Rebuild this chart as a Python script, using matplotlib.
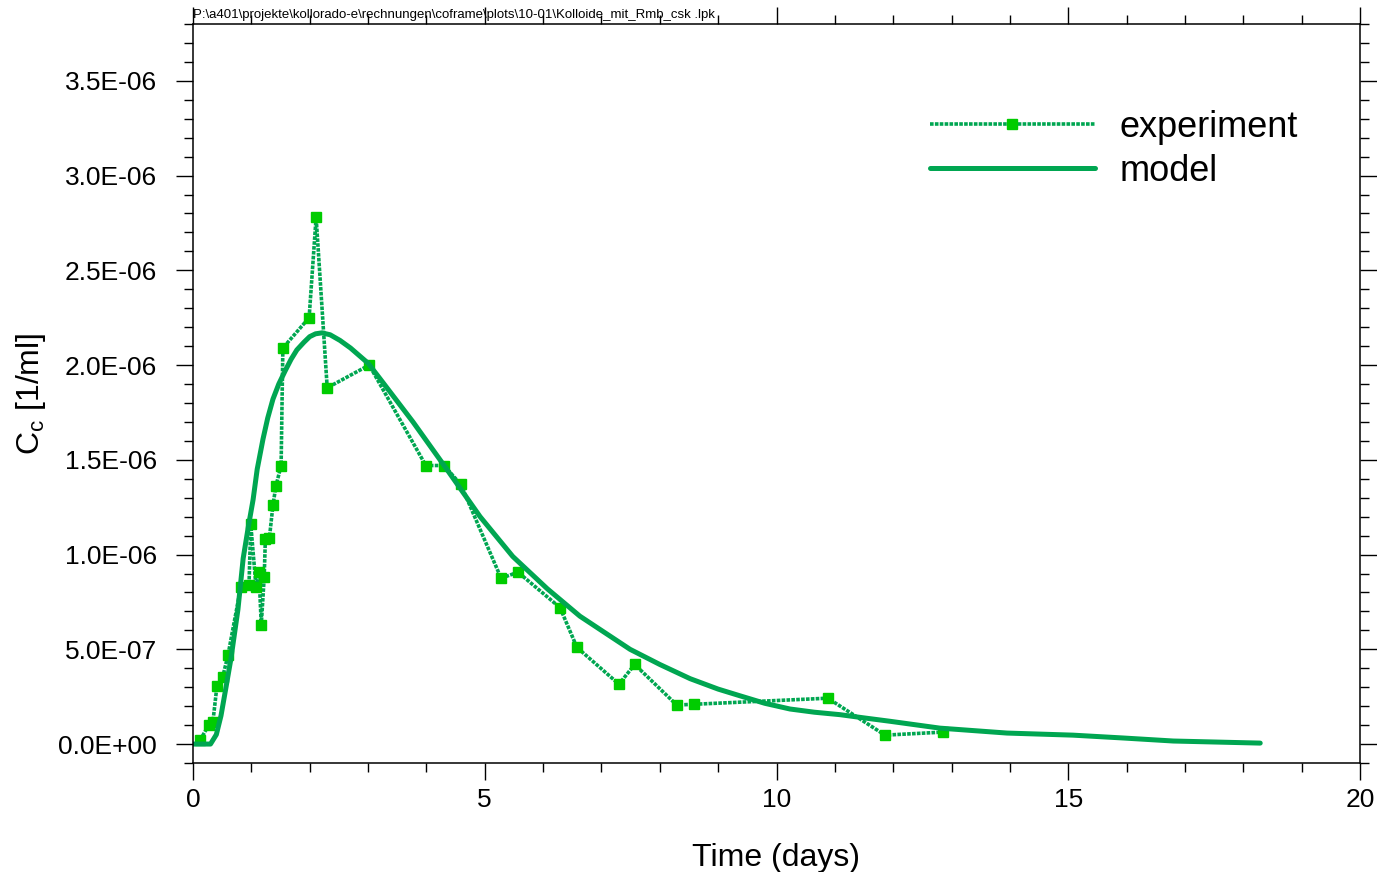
import matplotlib
matplotlib.use("Agg")
import matplotlib.pyplot as plt
from matplotlib.ticker import MultipleLocator, FormatStrFormatter

plt.rcParams['font.family'] = ['Liberation Sans', 'DejaVu Sans']
plt.rcParams['mathtext.default'] = 'regular'

# experiment (measured breakthrough)
exp_t = [0.12, 0.27, 0.34, 0.41, 0.51, 0.60, 0.82, 0.96, 0.99, 1.08, 1.13,
         1.17, 1.22, 1.24, 1.31, 1.37, 1.42, 1.51, 1.54, 1.99, 2.11, 2.30,
         3.02, 3.99, 4.30, 4.59, 5.28, 5.57, 6.29, 6.58, 7.30, 7.57, 8.29,
         8.59, 10.88, 11.86, 12.85]
exp_c = [2e-8, 1.0e-7, 1.15e-7, 3.05e-7, 3.55e-7, 4.7e-7, 8.3e-7, 8.4e-7,
         1.16e-6, 8.3e-7, 9.1e-7, 6.3e-7, 8.8e-7, 1.08e-6, 1.09e-6, 1.26e-6,
         1.36e-6, 1.47e-6, 2.09e-6, 2.25e-6, 2.78e-6, 1.88e-6, 2.0e-6, 1.47e-6,
         1.47e-6, 1.37e-6, 8.75e-7, 9.07e-7, 7.2e-7, 5.1e-7, 3.16e-7, 4.2e-7,
         2.06e-7, 2.1e-7, 2.42e-7, 4.7e-8, 6.3e-8]

# model curve
mod_t = [0.0, 0.3, 0.4, 0.48, 0.56, 0.65, 0.77, 0.86, 0.95, 1.03, 1.1, 1.2,
         1.28, 1.37, 1.47, 1.58, 1.68, 1.78, 1.9, 2.0, 2.1, 2.21, 2.35, 2.52,
         2.7, 3.0, 3.2, 3.77, 4.35, 4.92, 5.48, 6.07, 6.63, 7.49, 8.0, 8.52,
         9.0, 9.37, 9.8, 10.23, 10.65, 11.09, 11.5, 11.95, 12.8, 13.95, 15.08,
         15.94, 16.8, 18.29]
mod_c = [0.0, 0.0, 5e-8, 1.5e-7, 2.9e-7, 4.5e-7, 7.1e-7, 9.8e-7, 1.15e-6,
         1.29e-6, 1.45e-6, 1.61e-6, 1.72e-6, 1.82e-6, 1.9e-6, 1.97e-6, 2.03e-6,
         2.08e-6, 2.12e-6, 2.15e-6, 2.165e-6, 2.17e-6, 2.16e-6, 2.13e-6,
         2.09e-6, 2.01e-6, 1.93e-6, 1.70e-6, 1.45e-6, 1.20e-6, 9.9e-7, 8.2e-7,
         6.75e-7, 5.0e-7, 4.2e-7, 3.45e-7, 2.9e-7, 2.55e-7, 2.15e-7, 1.85e-7,
         1.68e-7, 1.55e-7, 1.38e-7, 1.2e-7, 8.4e-8, 5.8e-8, 4.7e-8, 3.2e-8,
         1.6e-8, 5e-9]

line_col = '#00A651'
mark_col = '#00CC00'

fig = plt.figure(figsize=(13.77, 8.72), dpi=100)
ax = fig.add_axes([193/1377, 1 - 763/872, (1360 - 193)/1377, (763 - 24)/872])

ax.plot(exp_t, exp_c, color=line_col, lw=2.6, ls=(0, (1, 0.35)),
        marker='s', ms=7.5, mfc=mark_col, mec=mark_col, label='experiment')
ax.plot(mod_t, mod_c, color=line_col, lw=3.6, solid_capstyle='round',
        solid_joinstyle='round', label='model')

ax.set_xlim(0, 20)
ax.set_ylim(-1e-7, 3.8e-6)
ax.xaxis.set_major_locator(MultipleLocator(5))
ax.xaxis.set_minor_locator(MultipleLocator(1))
ax.yaxis.set_major_locator(MultipleLocator(5e-7))
ax.yaxis.set_minor_locator(MultipleLocator(1e-7))
ax.yaxis.set_major_formatter(FormatStrFormatter('%.1E'))

ax.tick_params(which='both', direction='out', top=True, right=True,
               labeltop=False, labelright=False, width=1.0, color='black')
ax.tick_params(which='major', length=12, labelsize=19)
ax.tick_params(which='minor', length=6.5)
ax.tick_params(axis='y', which='major', pad=14)
ax.tick_params(axis='x', which='major', pad=6)
for s in ax.spines.values():
    s.set_linewidth(1.1)

ax.set_xlabel('Time (days)', fontsize=23, labelpad=22)
ax.set_ylabel('C$_c$ [1/ml]', fontsize=23, labelpad=7)

leg = ax.legend(loc='upper left', bbox_to_anchor=(930/1377, 1 - 110/872),
                bbox_transform=fig.transFigure, frameon=False, fontsize=26,
                handlelength=4.56, handletextpad=0.68, numpoints=1,
                borderpad=0, borderaxespad=0, labelspacing=0.25)

fig.text(193/1377, 1 - 15/872,
         r'P:\a401\projekte\kollorado-e\rechnungen\coframe\plots\10-01\Kolloide_mit_Rmb_csk .lpk',
         fontsize=9.5, va='center', ha='left')

fig.savefig('out.png', dpi=100)
